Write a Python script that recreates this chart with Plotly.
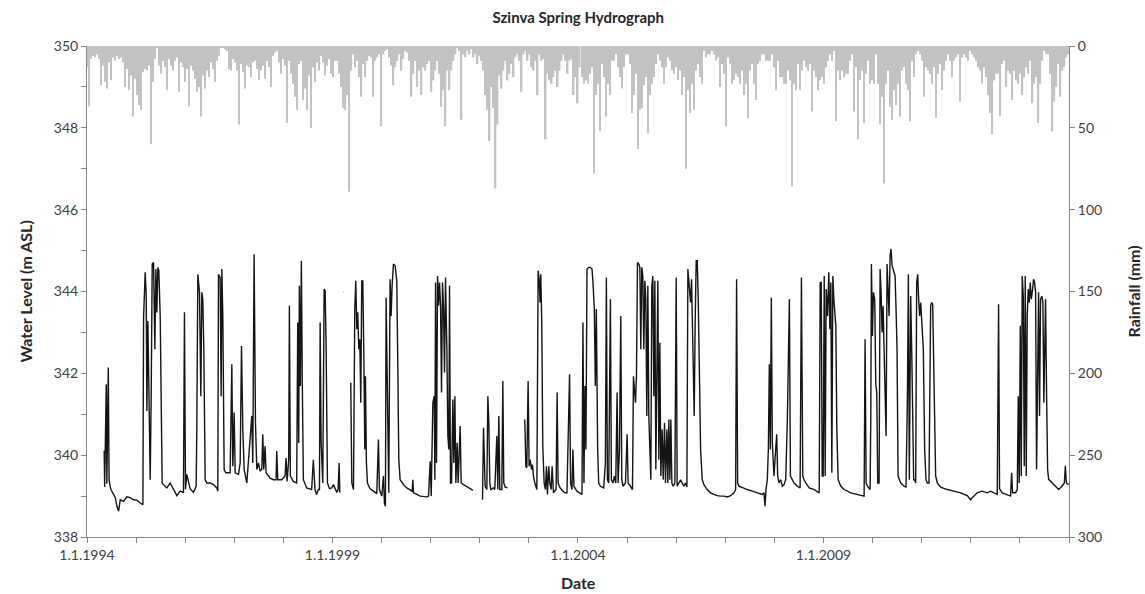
import numpy as np
import pandas as pd
import plotly.graph_objects as go

# ---------------- data ----------------
# daily-rain sample (mm), one value every ~15 days starting 1 Jan 1994
rain_start = "1994-01-01"
rain_step_days = 14.9
rain_mm = [
    13, 37, 8, 6, 7, 5, 8, 24, 12, 22, 26, 10, 21, 7, 9, 6, 8, 7, 10, 25,
    14, 27, 18, 43, 20, 30, 36, 39, 16, 14, 15, 12, 60, 22, 8, 1, 12, 17, 9, 13,
    27, 8, 12, 15, 9, 7, 28, 10, 13, 22, 14, 37, 12, 15, 20, 28, 25, 43, 18, 26,
    15, 19, 10, 14, 22, 9, 6, 1, 1, 2, 3, 14, 15, 8, 10, 15, 48, 11, 16, 26,
    12, 13, 19, 10, 9, 14, 21, 15, 12, 20, 9, 13, 25, 6, 4, 3, 10, 17, 8, 12,
    47, 9, 17, 23, 31, 39, 11, 9, 33, 26, 39, 18, 50, 13, 22, 10, 15, 6, 10,
    18, 12, 8, 17, 19, 9, 9, 17, 25, 38, 39, 30, 89, 15, 5, 13, 9, 19, 31, 11,
    19, 9, 6, 7, 31, 9, 7, 5, 49, 5, 3, 2, 7, 12, 24, 13, 9, 5, 15, 8,
    3, 4, 9, 31, 17, 9, 25, 15, 30, 13, 15, 11, 9, 28, 21, 15, 9, 17, 37, 27,
    49, 15, 27, 15, 9, 5, 1, 3, 45, 5, 7, 3, 5, 2, 7, 5, 11, 6, 9, 15,
    30, 39, 58, 25, 38, 87, 48, 18, 26, 15, 9, 21, 17, 11, 19, 7, 5, 9, 28, 5,
    3, 9, 5, 13, 15, 9, 30, 5, 9, 8, 57, 17, 21, 23, 19, 15, 25, 15, 9, 5, 9,
    17, 9, 8, 30, 19, 35, 13, 19, 23, 21, 23, 17, 13, 78, 30, 23, 52, 11, 19, 43,
    23, 30, 9, 9, 5, 13, 19, 26, 13, 5, 5, 11, 41, 30, 17, 63, 39, 38, 24, 19,
    53, 30, 23, 19, 11, 5, 9, 13, 23, 13, 7, 9, 15, 17, 13, 21, 15, 30, 19, 75,
    27, 41, 23, 39, 15, 11, 19, 23, 3, 7, 5, 5, 3, 5, 9, 7, 25, 11, 17, 49,
    7, 11, 23, 21, 17, 19, 23, 15, 30, 23, 44, 15, 11, 23, 33, 11, 9, 5, 5, 9,
    9, 9, 5, 13, 27, 9, 19, 19, 23, 23, 15, 21, 86, 23, 27, 11, 27, 15, 9, 13,
    15, 11, 40, 15, 19, 27, 21, 19, 23, 13, 9, 5, 9, 3, 46, 15, 21, 15, 19, 17,
    17, 9, 5, 40, 13, 57, 21, 15, 47, 17, 9, 23, 21, 23, 5, 23, 48, 31, 84, 23,
    15, 37, 45, 27, 36, 23, 43, 15, 13, 23, 27, 46, 9, 19, 5, 3, 5, 9, 31, 13,
    15, 17, 23, 13, 44, 17, 11, 27, 15, 9, 5, 9, 19, 9, 7, 5, 34, 7, 5, 7,
    9, 3, 5, 7, 9, 13, 15, 23, 13, 19, 30, 41, 54, 21, 17, 17, 43, 11, 9, 25,
    15, 17, 33, 15, 21, 23, 17, 30, 19, 13, 17, 9, 35, 23, 19, 47, 23, 9, 3, 5,
    5, 17, 52, 34, 25, 11, 31, 15, 13, 7, 5,
]

# water level: [decimal year, m ASL]; None marks a gap in the record
wl_1994_1999 = [
    [1994.350, 340.11], [1994.360, 339.22], [1994.393, 341.73], [1994.405, 339.30], [1994.434, 342.14],
    [1994.450, 339.40], [1994.475, 339.22], [1994.488, 339.16], [1994.542, 339.04], [1994.576, 338.96],
    [1994.610, 338.75], [1994.644, 338.63], [1994.678, 338.91], [1994.746, 338.87], [1994.814, 338.98],
    [1994.881, 338.96], [1994.949, 338.91], [1995.017, 338.90], [1995.085, 338.83], [1995.139, 338.79],
    [1995.153, 343.36], [1995.186, 344.47], [1995.207, 343.89], [1995.220, 341.08], [1995.241, 343.28],
    [1995.268, 341.04], [1995.288, 339.40], [1995.308, 341.44], [1995.329, 344.67], [1995.356, 344.71],
    [1995.383, 342.59], [1995.403, 344.55], [1995.424, 343.49], [1995.444, 344.59], [1995.464, 344.51],
    [1995.492, 343.40], [1995.512, 341.44], [1995.532, 339.32], [1995.559, 339.28], [1995.627, 339.20],
    [1995.695, 339.32], [1995.763, 339.16], [1995.831, 339.01], [1995.898, 339.12], [1995.966, 339.09],
    [1995.986, 343.49], [1996.007, 339.16], [1996.034, 339.53], [1996.102, 339.18], [1996.169, 339.09],
    [1996.224, 339.24], [1996.237, 340.59], [1996.258, 344.42], [1996.292, 343.98], [1996.319, 341.44],
    [1996.339, 343.98], [1996.359, 343.81], [1996.380, 342.59], [1996.407, 339.40], [1996.441, 339.32],
    [1996.508, 339.32], [1996.576, 339.28], [1996.644, 339.20], [1996.664, 339.12], [1996.678, 344.42],
    [1996.712, 344.34], [1996.732, 341.44], [1996.746, 344.55], [1996.766, 343.40], [1996.793, 339.65],
    [1996.827, 339.57], [1996.915, 339.57], [1996.949, 342.22], [1996.969, 339.73], [1996.997, 341.04],
    [1997.017, 339.57], [1997.085, 339.53], [1997.119, 339.81], [1997.146, 342.67], [1997.173, 340.63],
    [1997.200, 339.65], [1997.254, 339.32], [1997.288, 339.81], [1997.322, 340.42], [1997.356, 340.96],
    [1997.376, 339.81], [1997.403, 344.91], [1997.431, 340.79], [1997.458, 339.65], [1997.492, 339.81],
    [1997.525, 339.61], [1997.559, 339.65], [1997.580, 340.51], [1997.600, 339.65], [1997.627, 340.22],
    [1997.647, 339.57], [1997.729, 339.44], [1997.797, 339.40], [1997.851, 339.40], [1997.864, 340.10],
    [1997.885, 339.40], [1997.966, 339.40], [1998.034, 339.49], [1998.054, 339.93], [1998.075, 339.36],
    [1998.108, 339.89], [1998.122, 343.65], [1998.142, 339.49], [1998.203, 339.36], [1998.271, 339.32],
    [1998.292, 343.24], [1998.312, 340.30], [1998.325, 344.14], [1998.346, 341.69], [1998.366, 344.75],
    [1998.386, 341.69], [1998.407, 339.40], [1998.475, 339.20], [1998.576, 339.16], [1998.610, 339.89],
    [1998.644, 339.16], [1998.678, 339.04], [1998.712, 339.16], [1998.735, 339.16], [1998.749, 343.24],
    [1998.769, 340.30], [1998.803, 339.32], [1998.830, 344.06], [1998.851, 344.02], [1998.871, 342.59],
    [1998.898, 339.32], [1998.939, 339.18], [1998.986, 339.20], [1999.020, 339.28], [1999.054, 339.16],
    [1999.088, 339.09], [1999.115, 339.16], [1999.136, 339.81], [1999.149, 339.08],
    None,
    [1999.224, 343.98], [1999.229, 343.98],
    None,
]

wl_1999_2003 = [
    [1999.373, 341.77], [1999.394, 339.32], [1999.428, 339.16], [1999.455, 343.57], [1999.475, 344.26],
    [1999.496, 343.08], [1999.516, 343.49], [1999.536, 342.59], [1999.557, 342.83], [1999.577, 341.28],
    [1999.597, 344.26], [1999.618, 344.26], [1999.638, 342.59], [1999.659, 340.14], [1999.672, 341.93],
    [1999.692, 339.81], [1999.713, 339.32], [1999.767, 339.18], [1999.835, 339.12], [1999.903, 339.06],
    [1999.937, 340.38], [1999.957, 339.16], [2000.005, 339.00], [2000.039, 339.49], [2000.059, 338.83],
    [2000.079, 338.75], [2000.093, 343.85], [2000.120, 340.96], [2000.147, 339.08], [2000.174, 344.30],
    [2000.195, 343.40], [2000.215, 344.14], [2000.242, 344.67], [2000.276, 344.63], [2000.310, 344.26],
    [2000.331, 342.18], [2000.351, 339.89], [2000.378, 339.40], [2000.446, 339.28], [2000.514, 339.20],
    [2000.582, 339.16], [2000.623, 339.12], [2000.636, 339.40], [2000.650, 339.08], [2000.718, 339.04],
    [2000.785, 339.00], [2000.921, 338.98], [2000.955, 339.00], [2000.989, 339.85], [2001.010, 339.00],
    [2001.043, 341.28], [2001.071, 341.44], [2001.084, 339.40], [2001.098, 344.22], [2001.118, 339.81],
    [2001.139, 344.38], [2001.159, 343.65], [2001.179, 344.22], [2001.200, 343.65], [2001.220, 341.53],
    [2001.240, 344.22], [2001.261, 343.57], [2001.281, 342.02], [2001.301, 344.34], [2001.329, 342.59],
    [2001.349, 340.47], [2001.369, 340.14], [2001.383, 344.14], [2001.403, 339.32], [2001.424, 339.32],
    [2001.451, 341.36], [2001.471, 339.81], [2001.492, 341.44], [2001.512, 339.32], [2001.539, 340.30],
    [2001.559, 339.32], [2001.600, 340.71], [2001.620, 339.32], [2001.668, 339.28], [2001.736, 339.22],
    [2001.804, 339.18], [2001.858, 339.14],
    None,
    [2002.055, 338.91], [2002.075, 340.67], [2002.109, 339.24], [2002.143, 339.16], [2002.164, 341.44],
    [2002.184, 340.79], [2002.204, 339.32], [2002.225, 339.16], [2002.279, 339.20], [2002.306, 339.16],
    [2002.347, 340.47], [2002.367, 339.16], [2002.388, 340.96], [2002.408, 339.16], [2002.449, 339.16],
    [2002.469, 341.81], [2002.489, 339.32], [2002.517, 339.22], [2002.564, 339.20],
    None,
]

wl_2003_2008 = [
    [2002.917, 340.87], [2002.938, 339.73], [2002.958, 339.69], [2002.985, 341.81], [2003.005, 339.73],
    [2003.026, 339.89], [2003.053, 339.65], [2003.073, 339.77], [2003.094, 339.49], [2003.121, 339.32],
    [2003.163, 339.16], [2003.189, 344.51], [2003.209, 344.30], [2003.229, 343.73], [2003.243, 344.42],
    [2003.263, 343.20], [2003.284, 340.22], [2003.311, 339.32], [2003.338, 339.16], [2003.358, 339.73],
    [2003.379, 339.04], [2003.406, 339.73], [2003.426, 339.32], [2003.454, 339.16], [2003.474, 339.73],
    [2003.501, 339.08], [2003.555, 339.16], [2003.576, 341.53], [2003.596, 339.32], [2003.637, 339.20],
    [2003.691, 339.12], [2003.739, 339.08], [2003.776, 339.08], [2003.830, 341.98], [2003.850, 339.32],
    [2003.878, 339.16], [2003.898, 340.14], [2003.918, 339.24], [2003.980, 339.12], [2004.048, 339.08],
    [2004.082, 339.04], [2004.102, 343.24], [2004.122, 339.32], [2004.143, 341.69], [2004.163, 340.14],
    [2004.184, 344.55], [2004.218, 344.59], [2004.252, 344.59], [2004.286, 344.55], [2004.306, 344.22],
    [2004.333, 343.57], [2004.354, 341.69], [2004.374, 343.57], [2004.401, 340.14], [2004.422, 339.32],
    [2004.456, 339.24], [2004.524, 339.20], [2004.558, 339.81], [2004.578, 344.34], [2004.599, 339.40],
    [2004.626, 339.32], [2004.660, 343.81], [2004.680, 339.40], [2004.714, 339.32], [2004.741, 339.49],
    [2004.769, 339.32], [2004.796, 341.53], [2004.816, 339.32], [2004.844, 340.14], [2004.871, 343.40],
    [2004.891, 339.40], [2004.918, 339.24], [2004.966, 339.32], [2005.000, 340.51], [2005.020, 339.32],
    [2005.068, 339.24], [2005.109, 339.16], [2005.129, 341.93], [2005.150, 341.61], [2005.170, 341.28],
    [2005.190, 341.93], [2005.211, 344.71], [2005.238, 344.67], [2005.259, 344.59], [2005.279, 342.59],
    [2005.299, 344.59], [2005.320, 344.38], [2005.340, 342.59], [2005.361, 344.26], [2005.381, 343.81],
    [2005.401, 340.96], [2005.422, 344.14], [2005.442, 340.96], [2005.463, 340.30], [2005.483, 339.40],
    [2005.503, 344.14], [2005.524, 344.38], [2005.544, 341.44], [2005.565, 344.26], [2005.585, 339.65],
    [2005.605, 341.77], [2005.626, 344.26], [2005.646, 339.89], [2005.667, 342.75], [2005.687, 339.49],
    [2005.714, 340.63], [2005.735, 339.40], [2005.762, 340.79], [2005.782, 339.32], [2005.810, 340.63],
    [2005.830, 339.32], [2005.850, 340.87], [2005.871, 339.40], [2005.891, 340.87], [2005.912, 339.32],
    [2005.939, 339.24], [2005.973, 339.32], [2006.000, 344.34], [2006.020, 339.24], [2006.054, 339.32],
    [2006.088, 339.40], [2006.122, 339.32], [2006.156, 339.24], [2006.190, 339.32], [2006.218, 339.22],
    [2006.238, 344.55], [2006.265, 344.22], [2006.293, 343.73], [2006.313, 344.30], [2006.340, 342.91],
    [2006.367, 340.96], [2006.388, 343.40], [2006.408, 344.75], [2006.429, 344.75], [2006.449, 343.81],
    [2006.476, 341.77], [2006.497, 340.14], [2006.531, 339.40], [2006.565, 339.28], [2006.633, 339.16],
    [2006.701, 339.08], [2006.769, 339.04], [2006.837, 339.01], [2006.905, 339.00], [2006.973, 339.00],
    [2007.041, 338.98], [2007.109, 339.01], [2007.177, 339.08], [2007.211, 339.16], [2007.231, 344.30],
    [2007.252, 339.32], [2007.279, 339.24], [2007.347, 339.20], [2007.449, 339.16], [2007.551, 339.12],
    [2007.653, 339.08], [2007.755, 339.04], [2007.789, 339.08], [2007.810, 338.75], [2007.830, 339.16],
    [2007.857, 339.40], [2007.878, 340.14], [2007.898, 342.22], [2007.918, 340.14], [2007.939, 343.85],
    [2007.959, 340.30], [2007.993, 339.49], [2008.027, 340.14], [2008.048, 340.51], [2008.068, 339.49],
    [2008.095, 339.32], [2008.129, 339.40], [2008.163, 339.24], [2008.197, 339.28], [2008.231, 339.40],
    [2008.265, 340.87], [2008.286, 342.22], [2008.306, 343.81], [2008.327, 339.49], [2008.367, 339.40],
    [2008.401, 339.32], [2008.469, 339.24], [2008.524, 339.20], [2008.551, 344.34], [2008.578, 339.49],
    [2008.605, 339.40], [2008.639, 339.32],
]

wl_2008_2014 = [
    [2008.708, 339.20], [2008.810, 339.16], [2008.912, 339.08], [2008.932, 344.22], [2008.953, 344.22],
    [2008.973, 339.49], [2008.993, 339.49], [2009.014, 344.38], [2009.034, 339.49], [2009.054, 344.06],
    [2009.081, 343.40], [2009.108, 344.47], [2009.129, 343.08], [2009.149, 344.22], [2009.169, 339.57],
    [2009.190, 344.38], [2009.210, 343.81], [2009.231, 343.40], [2009.251, 343.16], [2009.271, 340.63],
    [2009.298, 339.40], [2009.353, 339.24], [2009.420, 339.16], [2009.556, 339.08], [2009.692, 339.04],
    [2009.827, 339.00], [2009.847, 342.83], [2009.868, 339.32], [2009.895, 339.24], [2009.949, 339.16],
    [2009.963, 340.87], [2009.976, 344.67], [2009.997, 342.91], [2010.017, 343.98], [2010.044, 343.81],
    [2010.064, 341.77], [2010.085, 341.53], [2010.105, 339.32], [2010.132, 339.32], [2010.153, 344.55],
    [2010.173, 343.98], [2010.193, 343.00], [2010.214, 343.65], [2010.234, 342.59], [2010.254, 341.36],
    [2010.275, 340.47], [2010.295, 344.67], [2010.315, 343.98], [2010.336, 343.40], [2010.356, 344.87],
    [2010.376, 345.04], [2010.397, 344.63], [2010.417, 344.55], [2010.437, 344.47], [2010.458, 344.38],
    [2010.478, 343.57], [2010.498, 342.59], [2010.519, 339.49], [2010.573, 339.32], [2010.641, 339.24],
    [2010.681, 339.22], [2010.708, 341.28], [2010.729, 344.42], [2010.749, 339.40], [2010.776, 343.89],
    [2010.797, 342.59], [2010.817, 340.22], [2010.837, 339.40], [2010.858, 339.40], [2010.878, 339.32],
    [2010.898, 344.22], [2010.919, 344.42], [2010.939, 343.81], [2010.959, 343.40], [2010.980, 343.73],
    [2011.007, 343.24], [2011.034, 342.59], [2011.061, 340.14], [2011.088, 339.40], [2011.115, 339.32],
    [2011.149, 339.32], [2011.183, 343.65], [2011.203, 343.73], [2011.224, 343.69], [2011.244, 342.59],
    [2011.264, 340.96], [2011.285, 339.49], [2011.319, 339.32], [2011.386, 339.22], [2011.522, 339.16],
    [2011.658, 339.12], [2011.793, 339.08], [2011.929, 339.01], [2011.997, 338.91], [2012.031, 338.96],
    [2012.132, 339.08], [2012.234, 339.12], [2012.336, 339.08], [2012.403, 339.12], [2012.471, 339.08],
    [2012.539, 339.04], [2012.566, 343.69], [2012.586, 339.18], [2012.641, 339.08], [2012.742, 339.04],
    [2012.810, 339.00], [2012.831, 339.57], [2012.851, 339.08], [2012.912, 339.08], [2012.946, 339.16],
    [2012.966, 341.44], [2012.986, 339.32], [2013.007, 343.16], [2013.027, 339.49], [2013.047, 344.38],
    [2013.068, 343.89], [2013.088, 339.73], [2013.108, 344.38], [2013.129, 339.49], [2013.149, 343.40],
    [2013.169, 344.06], [2013.190, 343.73], [2013.210, 344.22], [2013.231, 343.81], [2013.258, 344.06],
    [2013.278, 344.30], [2013.298, 344.22], [2013.319, 343.98], [2013.339, 339.65], [2013.359, 341.53],
    [2013.380, 343.98], [2013.400, 340.96], [2013.420, 343.81], [2013.447, 343.89], [2013.468, 343.73],
    [2013.488, 341.28], [2013.522, 343.81], [2013.543, 341.50], [2013.564, 339.65], [2013.585, 339.41],
    [2013.653, 339.32], [2013.721, 339.24], [2013.789, 339.16], [2013.857, 339.24], [2013.905, 339.32],
    [2013.925, 339.74], [2013.946, 339.32], [2013.993, 339.28],
]

x_tick_dates = ["1994-01-01", "1999-01-01", "2004-01-01", "2009-01-01"]
x_tick_text = ["1.1.1994", "1.1.1999", "1.1.2004", "1.1.2009"]


# ---------------- helpers ----------------
def dec_year_to_ts(y):
    yr = int(np.floor(y))
    start = pd.Timestamp(yr, 1, 1)
    end = pd.Timestamp(yr + 1, 1, 1)
    return start + (end - start) * (y - yr)


wl_all = wl_1994_1999 + wl_1999_2003 + wl_2003_2008 + wl_2008_2014
wl_x = [None if p is None else dec_year_to_ts(p[0]) for p in wl_all]
wl_y = [None if p is None else p[1] for p in wl_all]

rain_x = pd.Timestamp(rain_start) + pd.to_timedelta(np.arange(len(rain_mm)) * rain_step_days, unit="D")

FONT = "Lato, 'Open Sans', Arial, sans-serif"
AXC = "#868686"
TXT = "#404040"

fig = go.Figure()
fig.add_trace(go.Bar(
    x=rain_x, y=rain_mm, yaxis="y2",
    width=11 * 86400000,
    marker=dict(color="#c2c2c2", line=dict(width=0)),
    name="Rainfall", showlegend=False,
))
fig.add_trace(go.Scatter(
    x=wl_x, y=wl_y, mode="lines", connectgaps=False,
    line=dict(color="#141414", width=1.4),
    name="Water level", showlegend=False,
))

minor_years = [f"{y}-01-01" for y in range(1994, 2015)]

fig.update_layout(
    width=1145, height=594,
    margin=dict(l=87, r=76, t=46, b=57),
    paper_bgcolor="white", plot_bgcolor="white",
    font=dict(family=FONT, size=14, color=TXT),
    showlegend=False,
    title=dict(text="<b>Szinva Spring Hydrograph</b>", x=0.505, xanchor="center",
               y=1 - 18 / 594, yanchor="middle", yref="container",
               font=dict(family=FONT, size=15, color="#262626")),
    xaxis=dict(
        type="date", range=["1994-01-01", "2014-01-01"],
        tickmode="array", tickvals=x_tick_dates, ticktext=x_tick_text,
        ticks="outside", ticklen=5, tickcolor=AXC,
        showline=True, linecolor=AXC, linewidth=1,
        showgrid=False, zeroline=False,
        tickfont=dict(size=14, color=TXT),
        minor=dict(tickmode="array", tickvals=minor_years, ticks="outside",
                   ticklen=5, tickcolor=AXC, showgrid=False),
    ),
    yaxis=dict(
        range=[338, 350], tickmode="linear", tick0=338, dtick=2,
        ticks="outside", ticklen=5, tickcolor=AXC,
        showline=True, linecolor=AXC, linewidth=1,
        showgrid=False, zeroline=False,
        tickfont=dict(size=14, color=TXT),
        minor=dict(dtick=1, ticks="outside", ticklen=5, tickcolor=AXC, showgrid=False),
    ),
    yaxis2=dict(
        overlaying="y", side="right", range=[300, 0],
        tickmode="linear", tick0=0, dtick=50,
        ticks="outside", ticklen=5, tickcolor=AXC,
        showline=True, linecolor=AXC, linewidth=1,
        showgrid=False, zeroline=False,
        tickfont=dict(size=14, color=TXT),
    ),
    annotations=[
        dict(text="<b>Water Level (m ASL)</b>", xref="paper", yref="paper",
             x=(25 - 87) / 982, y=0.5, textangle=-90, showarrow=False,
             xanchor="center", yanchor="middle",
             font=dict(family=FONT, size=16, color="#262626")),
        dict(text="<b>Rainfall (mm)</b>", xref="paper", yref="paper",
             x=(1133 - 87) / 982, y=0.5, textangle=-90, showarrow=False,
             xanchor="center", yanchor="middle",
             font=dict(family=FONT, size=16, color="#262626")),
        dict(text="<b>Date</b>", xref="paper", yref="paper",
             x=0.5, y=(537 - 582) / 491, showarrow=False,
             xanchor="center", yanchor="middle",
             font=dict(family=FONT, size=16, color="#262626")),
    ],
)

fig.write_html("out.html")
